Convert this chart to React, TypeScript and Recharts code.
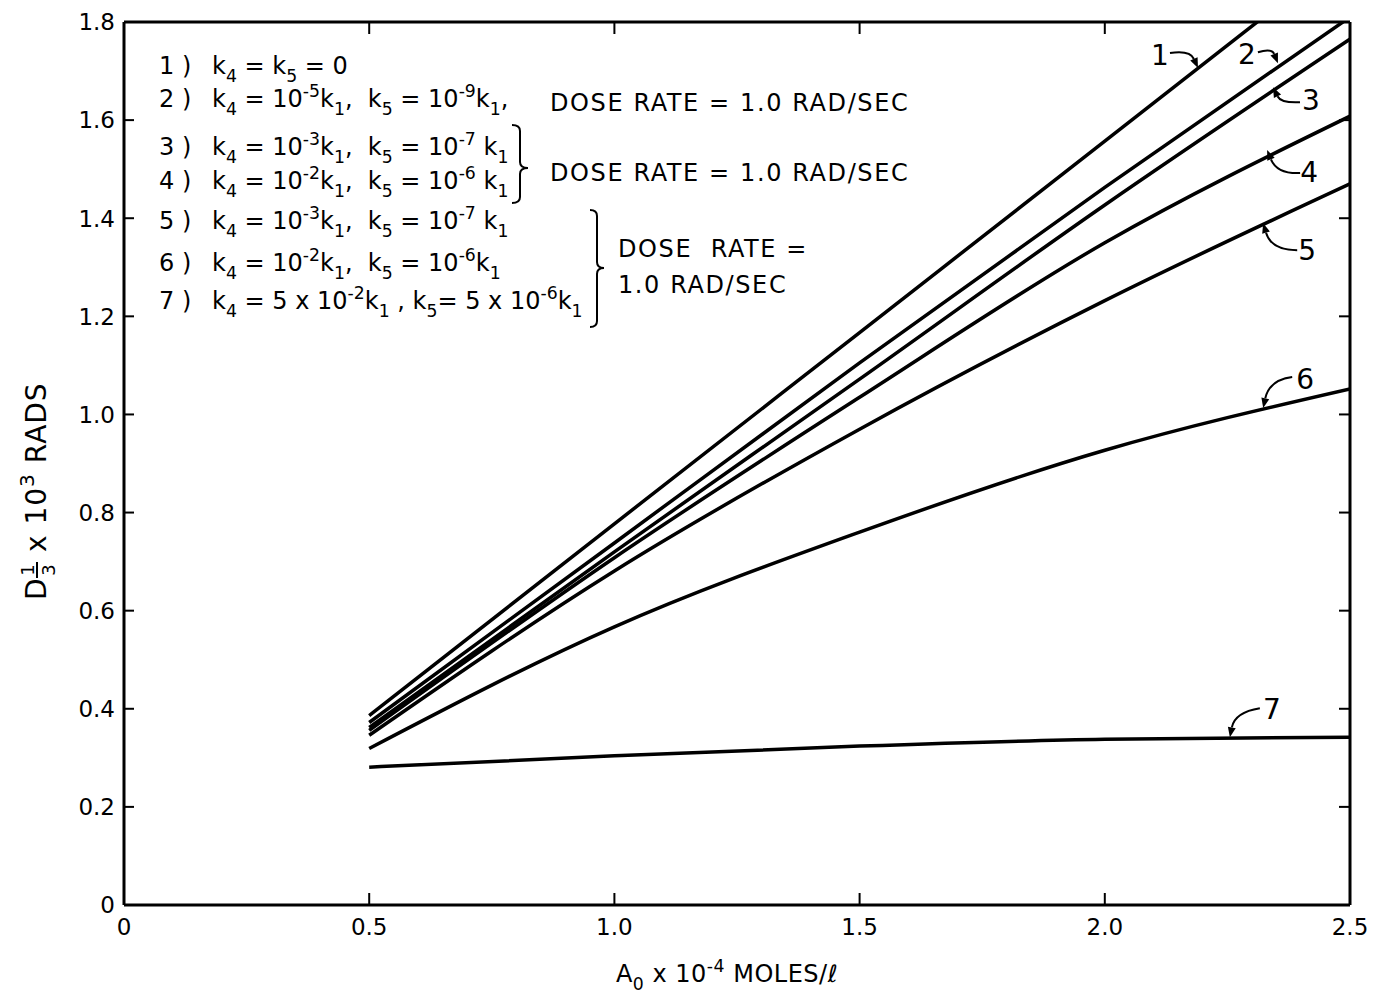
import React from 'react';
import { LineChart, Line, XAxis, YAxis, ReferenceDot, Customized } from 'recharts';

// ---------------- data ----------------
const xValues = [0.5, 1.0, 1.5, 2.0, 2.5];
const curve1 = [0.386, 0.777, 1.167, 1.557, 1.948];
const curve2 = [0.372, 0.738, 1.105, 1.463, 1.81];
const curve3 = [0.362, 0.72, 1.072, 1.427, 1.765];
const curve4 = [0.356, 0.708, 1.035, 1.35, 1.608];
const curve5 = [0.346, 0.681, 0.97, 1.232, 1.47];
const curve6 = [0.319, 0.567, 0.76, 0.927, 1.052];
const curve7 = [0.281, 0.304, 0.324, 0.338, 0.342];

const xTicks = [0, 0.5, 1.0, 1.5, 2.0, 2.5];
const xTickLabels = ['0', '0.5', '1.0', '1.5', '2.0', '2.5'];
const yTicks = [0, 0.2, 0.4, 0.6, 0.8, 1.0, 1.2, 1.4, 1.6, 1.8];
const yTickLabels = ['0', '0.2', '0.4', '0.6', '0.8', '1.0', '1.2', '1.4', '1.6', '1.8'];

const curveLabels = ['1', '2', '3', '4', '5', '6', '7'];
const labelTipX = [2.19, 2.353, 2.343, 2.331, 2.323, 2.323, 2.255];
const labelTipY = [1.706, 1.716, 1.667, 1.539, 1.39, 1.013, 0.342];

const legendNumbers = ['1 )', '2 )', '3 )', '4 )', '5 )', '6 )', '7 )'];
const legendTexts = [
  'k_{4} = k_{5} = 0',
  'k_{4} = 10^{-5}k_{1},  k_{5} = 10^{-9}k_{1},',
  'k_{4} = 10^{-3}k_{1},  k_{5} = 10^{-7} k_{1}',
  'k_{4} = 10^{-2}k_{1},  k_{5} = 10^{-6} k_{1}',
  'k_{4} = 10^{-3}k_{1},  k_{5} = 10^{-7} k_{1}',
  'k_{4} = 10^{-2}k_{1},  k_{5} = 10^{-6}k_{1}',
  'k_{4} = 5 x 10^{-2}k_{1} , k_{5}= 5 x 10^{-6}k_{1}',
];
const doseText = 'DOSE RATE = 1.0 RAD/SEC';
const doseTextA = 'DOSE  RATE =';
const doseTextB = '1.0 RAD/SEC';
const xTitle = 'A_{0} x 10^{-4} MOLES/ℓ';
const yTitleTail = 'x 10^{3} RADS';

const seriesKeys = ['c1', 'c2', 'c3', 'c4', 'c5', 'c6', 'c7'];
const seriesValues = [curve1, curve2, curve3, curve4, curve5, curve6, curve7];
const data = xValues.map((x, i) => {
  const row: Record<string, number> = { x };
  seriesKeys.forEach((k, j) => {
    row[k] = seriesValues[j][i];
  });
  return row;
});

// ---------------- styling ----------------
const FONT = '"DejaVu Sans", sans-serif';
const INK = '#000';

// pixel offsets for the hand-drawn curve labels (text, arrow tail, control point)
const textOff = [[-38, -13], [-31, -9], [38, 13], [42, 22], [44, 27], [42, -29], [42, -28]];
const tailOff = [[-28, -15], [-20, -11], [27, 15], [33, 23], [34, 27], [29, -31], [30, -29]];
const ctrlOff = [[-8, -18], [-6, -15], [8, 16], [10, 24], [8, 27], [6, -28], [5, -25]];

function Rich({ x, y, s, size = 24, anchor = 'start', spacing = 0 }: any) {
  const parts = s.split(/(_\{[^}]*\}|\^\{[^}]*\})/).filter((p: string) => p !== '');
  let cur = 0;
  const out: any[] = [];
  parts.forEach((p: string, i: number) => {
    let target = 0;
    let txt = p;
    let fs = size;
    if (p.startsWith('_{')) {
      target = size * 0.32;
      txt = p.slice(2, -1);
      fs = size * 0.72;
    } else if (p.startsWith('^{')) {
      target = -size * 0.42;
      txt = p.slice(2, -1);
      fs = size * 0.72;
    }
    const dy = target - cur;
    cur = target;
    out.push(
      <tspan key={i} dy={dy} fontSize={fs}>
        {txt}
      </tspan>
    );
  });
  return (
    <text
      x={x}
      y={y}
      fontSize={size}
      textAnchor={anchor}
      fontFamily={FONT}
      fill={INK}
      letterSpacing={spacing}
      style={{ whiteSpace: 'pre' }}
    >
      {out}
    </text>
  );
}

function Brace({ x, y1, y2, ym, w }: any) {
  const m = x + w / 2;
  const r = 6;
  const d = `M${x},${y1} Q${m},${y1} ${m},${y1 + r} L${m},${ym - r} Q${m},${ym} ${x + w},${ym} Q${m},${ym} ${m},${ym + r} L${m},${y2 - r} Q${m},${y2} ${x},${y2}`;
  return <path d={d} stroke={INK} strokeWidth={2} fill="none" />;
}

const legendBaselines = [66, 99, 147, 181, 221, 263, 301];

function Overlay() {
  return (
    <g>
      {legendNumbers.map((n, i) => (
        <text key={'n' + i} x={151} y={legendBaselines[i]} fontSize={24} fontFamily={FONT} fill={INK} style={{ whiteSpace: 'pre' }}>
          {n}
        </text>
      ))}
      {legendTexts.map((t, i) => (
        <Rich key={'t' + i} x={204} y={legendBaselines[i]} s={t} size={24} />
      ))}
      <Brace x={504} y1={117} y2={195} ym={160} w={16} />
      <Brace x={582} y1={202} y2={319} ym={260} w={14} />
      <Rich x={542} y={103} s={doseText} size={24} spacing={1.6} />
      <Rich x={542} y={173} s={doseText} size={24} spacing={1.6} />
      <Rich x={610} y={249} s={doseTextA} size={24} spacing={1.6} />
      <Rich x={610} y={285} s={doseTextB} size={24} spacing={1.6} />
      <Rich x={719} y={974} s={xTitle} size={24} anchor="middle" spacing={0.5} />
      <g transform="translate(38,482) rotate(-90)">
        <text x={-110} y={0} fontSize={28} fontFamily={FONT} fill={INK}>
          D
        </text>
        <line x1={-88} x2={-72} y1={-9} y2={-9} stroke={INK} strokeWidth={2} />
        <text x={-80} y={-12} fontSize={18} fontFamily={FONT} fill={INK} textAnchor="middle">
          1
        </text>
        <text x={-80} y={9} fontSize={18} fontFamily={FONT} fill={INK} textAnchor="middle">
          3
        </text>
        <Rich x={-62} y={0} s={yTitleTail} size={28} spacing={1} />
      </g>
    </g>
  );
}

function ArrowLabel(props: any) {
  const { cx, cy, idx } = props;
  if (cx == null || cy == null) return null;
  const t = textOff[idx];
  const a = tailOff[idx];
  const c = ctrlOff[idx];
  const tx = cx + a[0];
  const ty = cy + a[1];
  const qx = cx + c[0];
  const qy = cy + c[1];
  const ang = Math.atan2(cy - qy, cx - qx);
  const L = 10;
  const W = 4;
  const bx = cx - L * Math.cos(ang);
  const by = cy - L * Math.sin(ang);
  const p1x = bx + W * Math.sin(ang);
  const p1y = by - W * Math.cos(ang);
  const p2x = bx - W * Math.sin(ang);
  const p2y = by + W * Math.cos(ang);
  return (
    <g>
      <path d={`M${tx},${ty} Q${qx},${qy} ${bx},${by}`} stroke={INK} strokeWidth={2} fill="none" />
      <polygon points={`${cx},${cy} ${p1x},${p1y} ${p2x},${p2y}`} fill={INK} />
      <text x={cx + t[0]} y={cy + t[1]} dy="0.36em" textAnchor="middle" fontSize={28} fontFamily={FONT} fill={INK}>
        {curveLabels[idx]}
      </text>
    </g>
  );
}

// inward-pointing ticks drawn by custom tick renderers (tickSize 0, tickMargin 0)
function BottomTick(p: any) {
  const { x, y, payload } = p;
  const v = payload.value;
  const i = xTicks.indexOf(v);
  return (
    <g>
      {v !== 0 && <line x1={x} x2={x} y1={y} y2={y - 12} stroke={INK} strokeWidth={2} />}
      <text x={x} y={y + 13} dy="0.72em" textAnchor="middle" fontSize={23} fontFamily={FONT} fill={INK}>
        {i >= 0 ? xTickLabels[i] : String(v)}
      </text>
    </g>
  );
}
function TopTick(p: any) {
  const { x, y, payload } = p;
  if (payload.value === 0 || payload.value === 2.5) return <g />;
  return <line x1={x} x2={x} y1={y} y2={y + 12} stroke={INK} strokeWidth={2} />;
}
function LeftTick(p: any) {
  const { x, y, payload } = p;
  const v = payload.value;
  const i = yTicks.indexOf(v);
  return (
    <g>
      {v !== 0 && <line x1={x} x2={x + 10} y1={y} y2={y} stroke={INK} strokeWidth={2} />}
      <text x={x - 9} y={y} dy="0.36em" textAnchor="end" fontSize={23} fontFamily={FONT} fill={INK}>
        {i >= 0 ? yTickLabels[i] : String(v)}
      </text>
    </g>
  );
}
function RightTick(p: any) {
  const { x, y, payload } = p;
  if (payload.value === 0 || payload.value === 1.8) return <g />;
  return <line x1={x} x2={x - 11} y1={y} y2={y} stroke={INK} strokeWidth={2} />;
}

export default function App() {
  return (
    <div style={{ width: 1371, height: 987, background: '#fff' }}>
      <LineChart width={1371} height={987} data={data} margin={{ top: 13, right: 28, left: 0, bottom: 0 }}>
        <XAxis
          dataKey="x"
          type="number"
          domain={[0, 2.5]}
          ticks={xTicks}
          height={90}
          axisLine={{ stroke: INK, strokeWidth: 3 }}
          tickLine={false}
          tickSize={0}
          tickMargin={0}
          tick={BottomTick}
          interval={0}
          allowDataOverflow
        />
        <XAxis
          xAxisId="top"
          dataKey="x"
          orientation="top"
          type="number"
          domain={[0, 2.5]}
          ticks={xTicks}
          height={1}
          axisLine={{ stroke: INK, strokeWidth: 3 }}
          tickLine={false}
          tickSize={0}
          tickMargin={0}
          tick={TopTick}
          interval={0}
          allowDataOverflow
        />
        <YAxis
          type="number"
          domain={[0, 1.8]}
          ticks={yTicks}
          width={116}
          axisLine={{ stroke: INK, strokeWidth: 3 }}
          tickLine={false}
          tickSize={0}
          tickMargin={0}
          tick={LeftTick}
          interval={0}
          allowDataOverflow
        />
        <YAxis
          yAxisId="right"
          orientation="right"
          type="number"
          domain={[0, 1.8]}
          ticks={yTicks}
          width={1}
          axisLine={{ stroke: INK, strokeWidth: 3 }}
          tickLine={false}
          tickSize={0}
          tickMargin={0}
          tick={RightTick}
          interval={0}
          allowDataOverflow
        />
        {seriesKeys.map((k) => (
          <Line
            key={k}
            dataKey={k}
            type="monotone"
            stroke={INK}
            strokeWidth={3.5}
            dot={false}
            activeDot={false}
            isAnimationActive={false}
          />
        ))}
        <Line
          xAxisId="top"
          yAxisId="right"
          dataKey="c7"
          stroke="none"
          strokeWidth={0}
          dot={false}
          activeDot={false}
          legendType="none"
          isAnimationActive={false}
        />
        {curveLabels.map((l, i) => (
          <ReferenceDot
            key={'lab' + l}
            x={labelTipX[i]}
            y={labelTipY[i]}
            r={0}
            ifOverflow="visible"
            shape={(p: any) => <ArrowLabel {...p} idx={i} />}
          />
        ))}
        <Customized component={Overlay} />
      </LineChart>
    </div>
  );
}
